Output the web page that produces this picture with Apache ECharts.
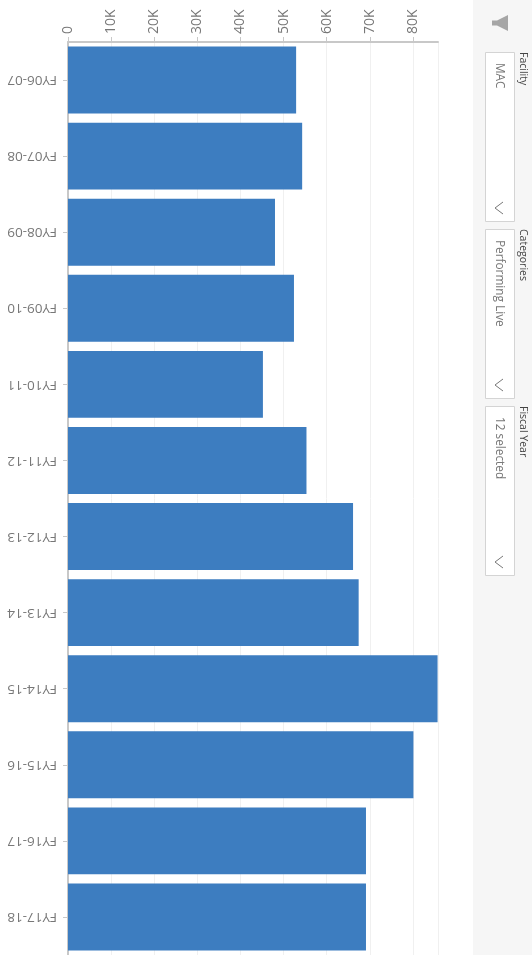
<!DOCTYPE html>
<html>
<head>
<meta charset="utf-8">
<title>Chart</title>
<style>
html, body { margin: 0; padding: 0; background: #fff; }
#chart { width: 532px; height: 955px; }
</style>
<script src="https://cdn.jsdelivr.net/npm/echarts@6/dist/echarts.min.js"></script>
</head>
<body>
<div id="chart"></div>
<script>
const fiscalYears = ["FY06-07", "FY07-08", "FY08-09", "FY09-10", "FY10-11", "FY11-12", "FY12-13", "FY13-14", "FY14-15", "FY15-16", "FY16-17", "FY17-18"];
const attendance = [52900, 54300, 48000, 52400, 45200, 55300, 66100, 67400, 85700, 80100, 69100, 69100];
const filterLabels = ["Facility", "Categories", "Fiscal Year"];
const filterValues = ["MAC", "Performing Live", "12 selected"];

const font = "'Open Sans', 'Noto Sans', sans-serif";
const chart = echarts.init(document.getElementById("chart"), null, { renderer: "canvas" });
const quarterTurn = -Math.PI / 2;

const slicer = (i) => {
    const top = 52 + i * 177;
    return [
        {
            type: "rect",
            shape: { x: 485.5, y: top + 0.5, width: 29, height: 169 },
            style: { fill: "#fff", stroke: "#d4d4d4", lineWidth: 1 },
        },
        {
            type: "text",
            x: 528, y: top,
            rotation: quarterTurn,
            style: { text: filterLabels[i], font: "10.5px " + font, fill: "#444", align: "left", verticalAlign: "top" },
        },
        {
            type: "text",
            x: 505.5, y: top + 11,
            rotation: quarterTurn,
            style: { text: filterValues[i], font: "11.8px " + font, fill: "#777", align: "left", verticalAlign: "top" },
        },
        {
            type: "polyline",
            shape: { points: [[503, top + 150], [495, top + 156], [503, top + 162]] },
            style: { stroke: "#777", fill: null, lineWidth: 1 },
        },
    ];
};

chart.setOption({
    animation: false,
    grid: { left: 68, right: 94, top: 42, bottom: 0, containLabel: false },
    xAxis: {
        type: "value",
        position: "top",
        min: 0,
        max: 85800,
        interval: 10000,
        axisLine: { show: true, lineStyle: { color: "#c8c8c8", width: 2 } },
        axisTick: { show: true, length: 5, lineStyle: { color: "#c8c8c8" } },
        splitLine: { show: true, lineStyle: { color: "#f0f0f0" } },
        axisLabel: {
            rotate: -90,
            margin: 8,
            fontSize: 14,
            fontFamily: font,
            color: "#777",
            showMaxLabel: false,
            formatter: (v) => (v === 0 ? "0" : v / 1000 + "K"),
        },
    },
    yAxis: {
        type: "category",
        inverse: true,
        data: fiscalYears,
        axisLine: { show: true, onZero: false, lineStyle: { color: "#c8c8c8", width: 2 } },
        axisTick: { show: true, alignWithLabel: true, length: 5, lineStyle: { color: "#c8c8c8" } },
        axisLabel: {
            rotate: 180,
            margin: 11,
            fontSize: 13.5,
            fontFamily: font,
            color: "#777",
        },
    },
    series: [
        {
            type: "bar",
            data: attendance,
            barWidth: "88%",
            itemStyle: { color: "#3d7dc0" },
        },
    ],
    graphic: [
        {
            type: "rect",
            shape: { x: 473, y: 0, width: 59, height: 955 },
            style: { fill: "#f6f6f6" },
        },
        {
            type: "polygon",
            shape: { points: [[508, 15], [508, 31], [497, 25.5], [492, 25.5], [492, 20.5], [497, 20.5]] },
            style: { fill: "#a6a6a6" },
        },
        ...slicer(0),
        ...slicer(1),
        ...slicer(2),
    ],
});
</script>
</body>
</html>
